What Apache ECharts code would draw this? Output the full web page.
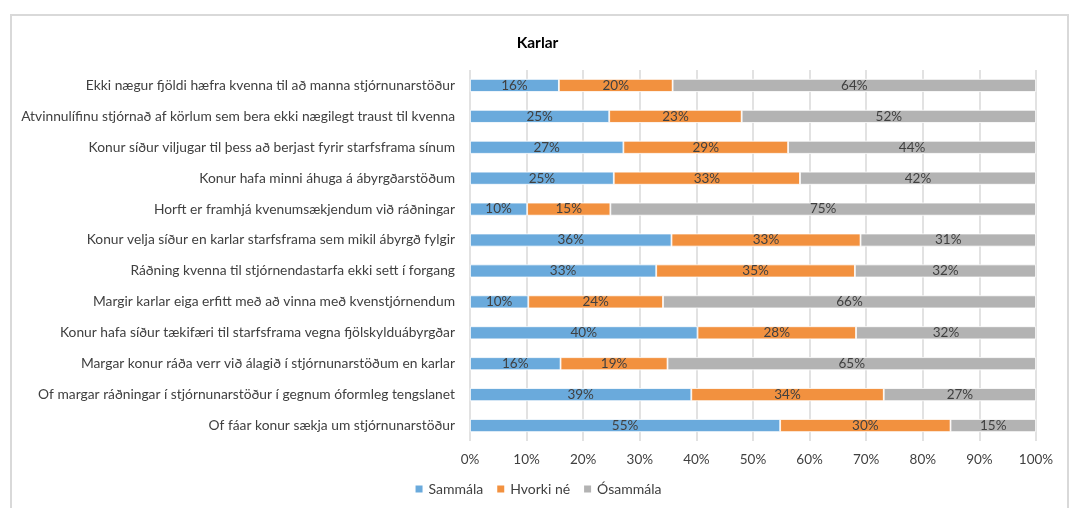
<!DOCTYPE html>
<html>
<head>
<meta charset="utf-8">
<script src="https://cdn.jsdelivr.net/npm/echarts@6/dist/echarts.min.js"></script>
<style>
  html, body { margin: 0; padding: 0; background: #fff; }
  #frame { position: absolute; left: 10px; top: 14px; width: 1059px; height: 520px; border: 2px solid #d9d9d9; box-sizing: border-box; }
  #chart { position: absolute; left: 0; top: 0; width: 1075px; height: 508px; }
</style>
</head>
<body>
<div id="frame"></div>
<div id="chart"></div>
<script>
// spurningar (neðst fyrst, echarts teiknar flokka neðan frá)
const categories = [
    'Of fáar konur sækja um stjórnunarstöður',
    'Of margar ráðningar í stjórnunarstöður í gegnum óformleg tengslanet',
    'Margar konur ráða verr við álagið í stjórnunarstöðum en karlar',
    'Konur hafa síður tækifæri til starfsframa vegna fjölskylduábyrgðar',
    'Margir karlar eiga erfitt með að vinna með kvenstjórnendum',
    'Ráðning kvenna til stjórnendastarfa ekki sett í forgang',
    'Konur velja síður en karlar starfsframa sem mikil ábyrgð fylgir',
    'Horft er framhjá kvenumsækjendum við ráðningar',
    'Konur hafa minni áhuga á ábyrgðarstöðum',
    'Konur síður viljugar til þess að berjast fyrir starfsframa sínum',
    'Atvinnulífinu stjórnað af körlum sem bera ekki nægilegt traust til kvenna',
    'Ekki nægur fjöldi hæfra kvenna til að manna stjórnunarstöður'
]

const sammala = [54.8, 39.1, 16.0, 40.2, 10.3, 32.9, 35.6, 10.1, 25.4, 27.1, 24.6, 15.7]
const hvorki = [30.1, 34.0, 18.9, 28.0, 23.8, 35.1, 33.4, 14.7, 32.9, 29.1, 23.4, 20.1]
const osammala = [15.1, 26.9, 65.1, 31.8, 65.9, 32.0, 31.0, 75.2, 41.7, 43.8, 52.0, 64.2]

const xTicks = [0, 10, 20, 30, 40, 50, 60, 70, 80, 90, 100]

const FONT = 'Lato'

const mkSeries = (name, data, color) => ({
    name: name,
    type: 'bar',
    stack: 'total',
    data: data,
    barWidth: 13,
    itemStyle: { color: color, borderColor: '#ffffff', borderWidth: 0.8 },
    label: {
        show: true,
        position: 'inside',
        color: '#404040',
        fontFamily: FONT,
        fontSize: 13.5,
        formatter: (p) => Math.round(p.value) + '%'
    }
})

var chartDom = document.getElementById('chart')
var myChart = echarts.init(chartDom)

const option = {
    animation: false,
    title: {
        text: 'Karlar',
        left: 'center',
        top: 30,
        textStyle: { fontFamily: FONT, fontSize: 15.5, fontWeight: 'bold', color: '#000' }
    },
    legend: {
        bottom: 7,
        left: 'center',
        itemWidth: 9,
        itemHeight: 9,
        itemGap: 12,
        icon: 'rect',
        textStyle: { fontFamily: FONT, fontSize: 14, color: '#404040' },
        data: ['Sammála', 'Hvorki né', 'Ósammála']
    },
    grid: { left: 470, right: 39, top: 70, bottom: 67, containLabel: false },
    xAxis: {
        type: 'value',
        min: xTicks[0],
        max: xTicks[xTicks.length - 1],
        interval: 10,
        axisLine: { show: false },
        axisTick: { show: false },
        splitLine: { show: true, lineStyle: { color: '#d9d9d9', width: 1.5 } },
        axisLabel: { formatter: '{value}%', color: '#404040', fontFamily: FONT, fontSize: 13.5, margin: 12 }
    },
    yAxis: {
        type: 'category',
        data: categories,
        axisLine: { show: false },
        axisTick: { show: false },
        axisLabel: { color: '#404040', fontFamily: FONT, fontSize: 13.8, margin: 15 }
    },
    series: [
        mkSeries('Sammála', sammala, '#6aaadc'),
        mkSeries('Hvorki né', hvorki, '#f2913f'),
        mkSeries('Ósammála', osammala, '#b3b3b3')
    ]
}
myChart.setOption(option)
</script>
</body>
</html>
